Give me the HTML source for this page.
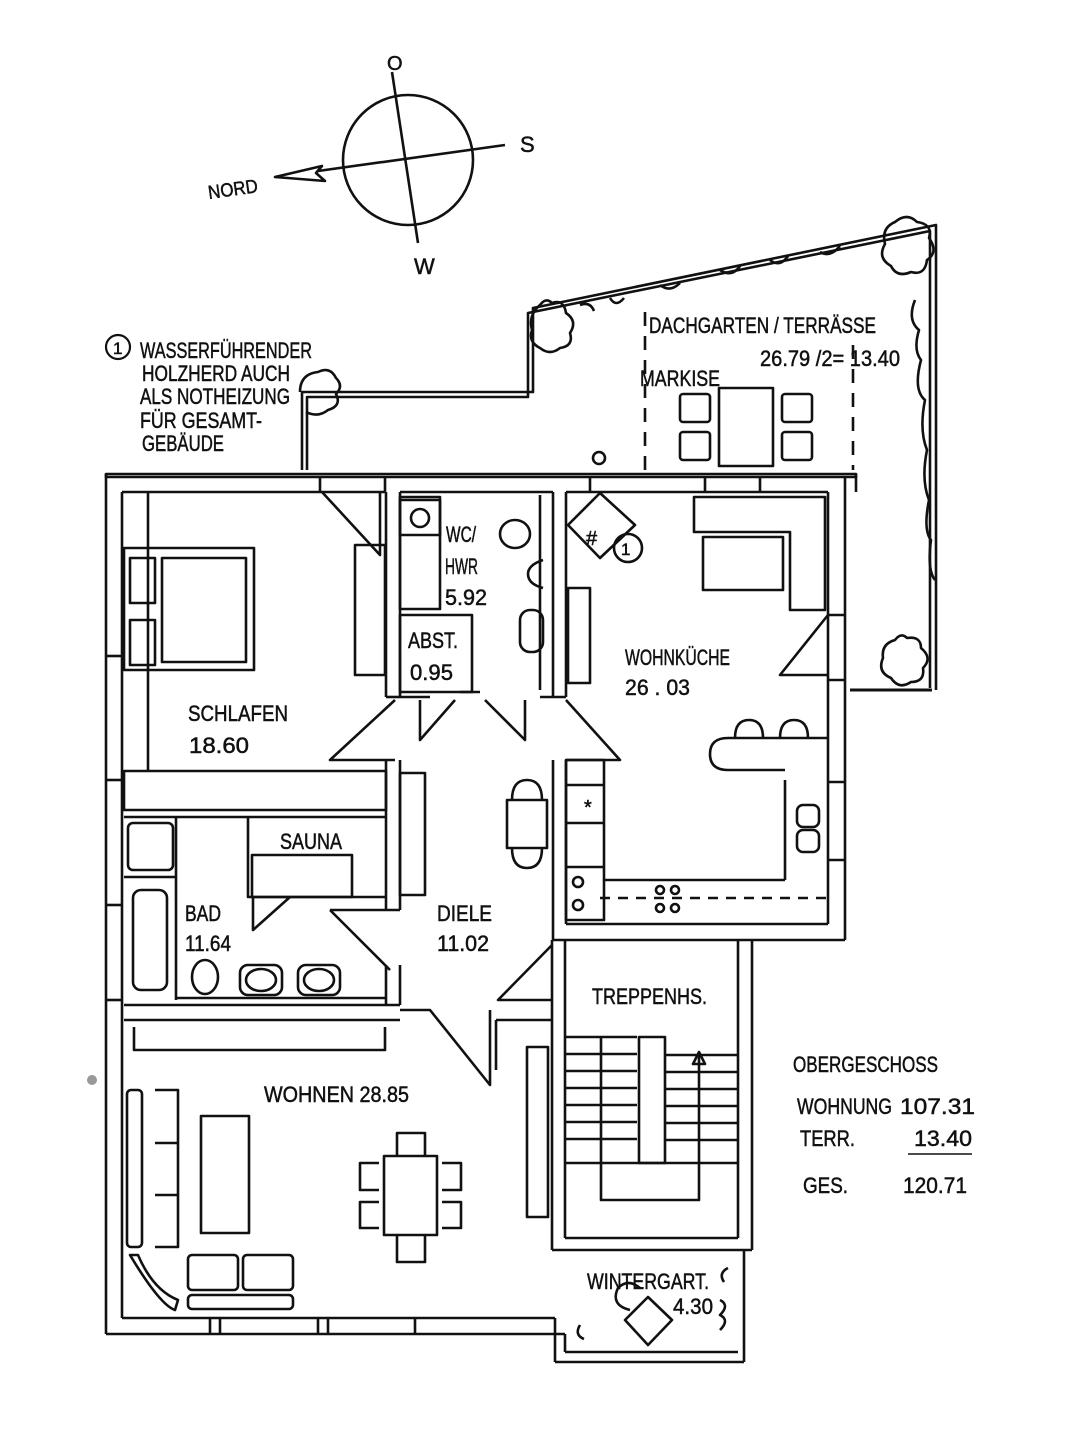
<!DOCTYPE html>
<html><head><meta charset="utf-8"><style>
html,body{margin:0;padding:0;background:#fff;}
svg{display:block;}
text{font-family:"Liberation Sans Narrow","Liberation Sans",sans-serif;fill:#111;stroke:#111;stroke-width:0.5;}
</style></head><body>
<svg width="1089" height="1440" viewBox="0 0 1089 1440" xmlns="http://www.w3.org/2000/svg">
<rect width="1089" height="1440" fill="#fff"/>
<g stroke="#111" stroke-width="2.6" fill="none" stroke-linejoin="round">
<!-- compass -->
<circle cx="408" cy="160" r="65"/>
<line x1="392" y1="72" x2="418" y2="243"/>
<line x1="275" y1="177" x2="505" y2="145"/>
<path d="M275 177 L322 166 L316 173 L325 181 Z" fill="#fff"/>

<!-- terrace -->
<path d="M302 470 L302 392 L533 392 L533 308 L936 225 L936 690"/>
<path d="M307 470 L307 397 L528 397 L528 313 L930 231 L930 688"/>
<line x1="850" y1="690" x2="932" y2="690" stroke-width="3"/>
<line x1="645" y1="312" x2="645" y2="470" stroke-dasharray="14,10"/>
<line x1="853" y1="345" x2="853" y2="470" stroke-dasharray="14,10"/>
<rect x="719" y="388" width="54" height="78"/>
<rect x="680" y="394" width="30" height="28" rx="3"/>
<rect x="680" y="432" width="30" height="28" rx="3"/>
<rect x="782" y="394" width="30" height="28" rx="3"/>
<rect x="782" y="432" width="30" height="28" rx="3"/>
<circle cx="599" cy="458" r="6"/>
<!-- plants -->
<path d="M540 305 q-12 10 -8 25 q-4 12 8 18 q10 8 20 0 q14 -2 10 -15 q8 -12 -4 -20 q-2 -14 -14 -10 q-6 -6 -12 2z"/>
<path d="M300 392 q0 -18 18 -20 q12 -6 18 6 q8 8 0 16 q6 12 -8 16 q-10 8 -22 2"/>
<path d="M895 222 q-14 6 -10 22 q-8 14 6 22 q6 12 20 6 q14 4 16 -12 q12 -8 2 -22 q4 -14 -12 -16 q-10 -10 -22 0z"/>
<path d="M895 640 q-14 4 -12 18 q-6 14 8 20 q8 12 20 4 q14 0 12 -14 q10 -10 -2 -20 q0 -12 -14 -10 q-6 -6 -12 2z"/>
<path d="M915 300 q-8 20 4 30 q-6 20 2 30 q-8 30 4 40 q-6 30 2 50 q-6 30 2 50 q-6 30 2 40 q-4 30 4 40"/>
<path d="M580 305 q10 -4 14 6 M610 298 q6 10 14 0 M660 285 q10 8 20 -2 M720 270 q12 8 20 -4 M770 260 q10 8 18 -4 M820 252 q10 6 20 -6"/>

<!-- outer walls -->
<rect x="106" y="474" width="750" height="3"/>
<line x1="106" y1="474" x2="106" y2="1334"/>
<line x1="122" y1="492" x2="122" y2="1318"/>
<line x1="122" y1="492" x2="386" y2="492"/>
<line x1="400" y1="492" x2="553" y2="492"/>
<line x1="566" y1="492" x2="828" y2="492"/>
<line x1="106" y1="1334" x2="565" y2="1334"/>
<line x1="122" y1="1318" x2="555" y2="1318"/>
<line x1="106" y1="656" x2="122" y2="656"/><line x1="106" y1="780" x2="122" y2="780"/>
<line x1="106" y1="905" x2="122" y2="905"/><line x1="106" y1="1000" x2="122" y2="1000"/>
<line x1="148" y1="492" x2="148" y2="770"/>
<!-- right wall -->
<line x1="828" y1="492" x2="828" y2="924"/>
<line x1="845" y1="477" x2="845" y2="940"/>
<line x1="856" y1="474" x2="856" y2="492"/>
<line x1="828" y1="615" x2="845" y2="615"/><line x1="828" y1="680" x2="845" y2="680"/>
<line x1="828" y1="782" x2="845" y2="782"/><line x1="828" y1="860" x2="845" y2="860"/>
<line x1="320" y1="477" x2="320" y2="492"/><line x1="385" y1="477" x2="385" y2="492"/>
<line x1="590" y1="477" x2="590" y2="492"/><line x1="705" y1="477" x2="705" y2="492"/>
<line x1="760" y1="477" x2="760" y2="492"/>

<!-- WC -->
<line x1="386" y1="492" x2="386" y2="697"/><line x1="400" y1="492" x2="400" y2="697"/>
<line x1="553" y1="492" x2="553" y2="697"/><line x1="566" y1="492" x2="566" y2="697"/>
<line x1="386" y1="697" x2="400" y2="697"/><line x1="540" y1="697" x2="566" y2="697"/>
<rect x="400" y="497" width="40" height="112"/>
<rect x="400" y="500" width="40" height="35"/>
<circle cx="420" cy="518" r="9"/>
<rect x="400" y="615" width="72" height="77"/>
<line x1="400" y1="697" x2="430" y2="697"/><line x1="460" y1="692" x2="480" y2="692"/>
<ellipse cx="515" cy="534" rx="15" ry="14"/>
<rect x="520" y="610" width="23" height="42" rx="10"/>
<path d="M543 560 q-15 5 -15 14 q0 10 15 14"/>
<line x1="540" y1="495" x2="540" y2="690"/>
<rect x="355" y="545" width="30" height="130"/>
<path d="M322 492 L380 555 L380 492"/>
<!-- bed -->
<rect x="124" y="548" width="130" height="122"/>
<rect x="162" y="558" width="84" height="104"/>
<rect x="130" y="558" width="25" height="45"/><rect x="130" y="620" width="25" height="45"/>
<!-- doors -->
<path d="M395 700 L330 760 L395 760"/>
<path d="M420 700 L420 740 L455 700"/>
<path d="M485 700 L525 740 L525 700"/>
<path d="M566 700 L620 760 L566 760"/>
<rect x="124" y="771" width="262" height="39"/>
<line x1="386" y1="760" x2="386" y2="910"/><line x1="400" y1="760" x2="400" y2="910"/>
<rect x="400" y="773" width="25" height="122"/>
<!-- Bad -->
<line x1="124" y1="817" x2="386" y2="817"/>
<line x1="176" y1="817" x2="176" y2="1000"/>
<rect x="128" y="823" width="45" height="47" rx="5"/>
<line x1="124" y1="877" x2="176" y2="877"/>
<rect x="133" y="890" width="34" height="100" rx="8"/>
<path d="M248 817 L248 897 L386 897"/>
<rect x="252" y="855" width="100" height="42"/>
<path d="M253 897 L253 930 L290 897"/>
<ellipse cx="205" cy="977" rx="13" ry="17"/>
<rect x="240" y="965" width="42" height="30" rx="8"/><ellipse cx="261" cy="980" rx="15" ry="11"/>
<rect x="298" y="965" width="42" height="30" rx="8"/><ellipse cx="319" cy="980" rx="15" ry="11"/>
<line x1="176" y1="998" x2="386" y2="998"/>
<line x1="124" y1="1005" x2="400" y2="1005"/>
<line x1="386" y1="965" x2="386" y2="1005"/><line x1="400" y1="965" x2="400" y2="1005"/>
<path d="M330 910 L400 910 M330 910 L390 970"/>
<path d="M400 1010 L430 1010 L490 1085 L490 1010"/>
<!-- Kitchen -->
<line x1="553" y1="760" x2="553" y2="940"/><line x1="566" y1="760" x2="566" y2="924"/>
<line x1="553" y1="940" x2="845" y2="940"/><line x1="566" y1="924" x2="828" y2="924"/>
<rect x="566" y="760" width="38" height="160"/>
<line x1="566" y1="785" x2="604" y2="785"/><line x1="566" y1="823" x2="604" y2="823"/>
<line x1="566" y1="867" x2="604" y2="867"/>
<line x1="604" y1="880" x2="785" y2="880"/>
<line x1="785" y1="780" x2="785" y2="880"/>
<path d="M828 738 L728 738 q-18 0 -18 16 q0 16 18 16 L785 770"/>
<path d="M735 738 q0 -18 14 -18 q14 0 14 18 M780 738 q0 -18 14 -18 q14 0 14 18"/>
<rect x="797" y="805" width="22" height="22" rx="6"/><rect x="797" y="830" width="22" height="22" rx="6"/>
<line x1="600" y1="898" x2="828" y2="898" stroke-dasharray="10,8"/>
<circle cx="578" cy="882" r="5"/><circle cx="578" cy="905" r="5"/>
<circle cx="660" cy="890" r="4"/><circle cx="675" cy="890" r="4"/><circle cx="660" cy="908" r="4"/><circle cx="675" cy="908" r="4"/>
<path d="M694 497 L825 497 L825 610 L790 610 L790 532 L694 532 Z"/>
<rect x="703" y="537" width="80" height="53"/>
<path d="M828 615 L780 675 L828 675"/>
<path d="M568 525 L600 493 L635 525 L600 558 Z"/>
<circle cx="628" cy="548" r="14"/>
<rect x="568" y="588" width="22" height="95"/>
<rect x="507" y="800" width="40" height="48"/>
<path d="M512 800 q0 -20 15 -20 q15 0 15 20 M512 848 q0 20 15 20 q15 0 15 -20"/>
<!-- Treppenhaus -->
<line x1="552" y1="940" x2="552" y2="1250"/><line x1="565" y1="940" x2="565" y2="1238"/>
<line x1="738" y1="940" x2="738" y2="1238"/><line x1="752" y1="940" x2="752" y2="1250"/>
<line x1="565" y1="1238" x2="738" y2="1238"/><line x1="552" y1="1250" x2="752" y2="1250"/>
<path d="M552 945 L498 1000 L552 1000"/>
<rect x="527" y="1047" width="21" height="170"/>
<path d="M496 1020 L552 1020 M496 1020 L496 1070"/>
<line x1="565" y1="1037" x2="637" y2="1037"/>
<rect x="639" y="1037" width="26" height="126"/>
<line x1="565" y1="1163" x2="738" y2="1163"/>
<line x1="565" y1="1054" x2="637" y2="1054"/><line x1="565" y1="1071" x2="637" y2="1071"/>
<line x1="565" y1="1088" x2="637" y2="1088"/><line x1="565" y1="1105" x2="637" y2="1105"/>
<line x1="565" y1="1122" x2="637" y2="1122"/><line x1="565" y1="1139" x2="637" y2="1139"/>
<line x1="665" y1="1055" x2="738" y2="1055"/><line x1="665" y1="1072" x2="738" y2="1072"/>
<line x1="665" y1="1089" x2="738" y2="1089"/><line x1="665" y1="1106" x2="738" y2="1106"/>
<line x1="665" y1="1123" x2="738" y2="1123"/><line x1="665" y1="1140" x2="738" y2="1140"/>
<path d="M601 1037 L601 1200 L699 1200 L699 1055"/>
<path d="M693 1064 L699 1052 L705 1064 Z"/>
<!-- Wohnen -->
<line x1="124" y1="1020" x2="400" y2="1020"/>
<path d="M134 1027 L134 1050 L385 1050 L385 1027"/>
<rect x="127" y="1090" width="15" height="157" rx="4"/>
<path d="M155 1090 L178 1090 L178 1143 L155 1143 M155 1143 L178 1143 L178 1195 L155 1195 M155 1195 L178 1195 L178 1247 L155 1247"/>
<rect x="201" y="1116" width="48" height="117"/>
<rect x="384" y="1156" width="53" height="79"/>
<path d="M397 1156 L397 1133 L425 1133 L425 1156 M397 1235 L397 1262 L425 1262 L425 1235"/>
<path d="M379 1163 L360 1163 L360 1190 L379 1190 M379 1202 L360 1202 L360 1228 L379 1228"/>
<path d="M442 1163 L461 1163 L461 1190 L442 1190 M442 1202 L461 1202 L461 1228 L442 1228"/>
<path d="M130 1255 q30 50 45 55 L178 1300 q-25 -10 -40 -45 Z"/>
<rect x="188" y="1255" width="50" height="35" rx="4"/><rect x="243" y="1255" width="50" height="35" rx="4"/>
<rect x="188" y="1295" width="105" height="14" rx="4"/>
<line x1="210" y1="1318" x2="210" y2="1334"/><line x1="220" y1="1318" x2="220" y2="1334"/>
<line x1="318" y1="1318" x2="318" y2="1334"/><line x1="328" y1="1318" x2="328" y2="1334"/>
<line x1="415" y1="1318" x2="415" y2="1334"/>
<!-- Wintergarten -->
<line x1="555" y1="1318" x2="555" y2="1362"/><line x1="565" y1="1334" x2="565" y2="1352"/>
<line x1="555" y1="1362" x2="744" y2="1362"/><line x1="565" y1="1352" x2="738" y2="1352"/>
<line x1="744" y1="1250" x2="744" y2="1362"/>
<path d="M625 1320 L648 1297 L672 1320 L648 1345 Z"/>
<path d="M630 1310 q-20 -5 -12 -22 q10 -10 22 0"/>
<path d="M728 1268 q-10 5 -4 14 M720 1300 q10 5 0 15 q10 5 0 15 M580 1325 q-6 10 4 14"/>
</g>

<!-- texts -->
<g font-size="22">
<circle cx="118" cy="347" r="12" fill="none" stroke="#111" stroke-width="2.2"/>
<text x="113" y="354" font-size="17">1</text>
<text x="140" y="358" textLength="172" lengthAdjust="spacingAndGlyphs">WASSERFÜHRENDER</text>
<text x="142" y="381" textLength="148" lengthAdjust="spacingAndGlyphs">HOLZHERD  AUCH</text>
<text x="140" y="404" textLength="150" lengthAdjust="spacingAndGlyphs">ALS NOTHEIZUNG</text>
<text x="140" y="428" textLength="122" lengthAdjust="spacingAndGlyphs">FÜR GESAMT-</text>
<text x="142" y="451" textLength="82" lengthAdjust="spacingAndGlyphs">GEBÄUDE</text>
<text x="387" y="70" font-size="20">O</text>
<text x="520" y="152" font-size="22">S</text>
<text x="414" y="274" font-size="22">W</text>
<text x="208" y="196" font-size="19" transform="rotate(-8 230 190)" textLength="50" lengthAdjust="spacingAndGlyphs">NORD</text>
<text x="649" y="333" textLength="227" lengthAdjust="spacingAndGlyphs">DACHGARTEN / TERRÄSSE</text>
<text x="760" y="366" textLength="140" lengthAdjust="spacingAndGlyphs">26.79 /2= 13.40</text>
<text x="640" y="386" textLength="80" lengthAdjust="spacingAndGlyphs">MARKISE</text>
<text x="446" y="542" textLength="30" lengthAdjust="spacingAndGlyphs">WC/</text>
<text x="445" y="574" textLength="33" lengthAdjust="spacingAndGlyphs">HWR</text>
<text x="445" y="605" textLength="42" lengthAdjust="spacingAndGlyphs">5.92</text>
<text x="408" y="648" textLength="50" lengthAdjust="spacingAndGlyphs">ABST.</text>
<text x="410" y="680" textLength="43" lengthAdjust="spacingAndGlyphs">0.95</text>
<text x="625" y="665" textLength="105" lengthAdjust="spacingAndGlyphs">WOHNKÜCHE</text>
<text x="625" y="695" textLength="65" lengthAdjust="spacingAndGlyphs">26 . 03</text>
<text x="188" y="721" textLength="100" lengthAdjust="spacingAndGlyphs">SCHLAFEN</text>
<text x="189" y="753" textLength="60" lengthAdjust="spacingAndGlyphs">18.60</text>
<text x="280" y="849" textLength="62" lengthAdjust="spacingAndGlyphs">SAUNA</text>
<text x="185" y="921" textLength="36" lengthAdjust="spacingAndGlyphs">BAD</text>
<text x="185" y="951" textLength="46" lengthAdjust="spacingAndGlyphs">11.64</text>
<text x="437" y="921" textLength="55" lengthAdjust="spacingAndGlyphs">DIELE</text>
<text x="437" y="951" textLength="52" lengthAdjust="spacingAndGlyphs">11.02</text>
<text x="592" y="1004" textLength="115" lengthAdjust="spacingAndGlyphs">TREPPENHS.</text>
<text x="264" y="1102" textLength="145" lengthAdjust="spacingAndGlyphs">WOHNEN  28.85</text>
<text x="587" y="1289" textLength="122" lengthAdjust="spacingAndGlyphs">WINTERGART.</text>
<text x="673" y="1314" textLength="40" lengthAdjust="spacingAndGlyphs">4.30</text>
<text x="584" y="814" font-size="20">*</text>
<text x="586" y="545" font-size="20">#</text>
<text x="621" y="555" font-size="17">1</text>
<text x="793" y="1072" textLength="145" lengthAdjust="spacingAndGlyphs">OBERGESCHOSS</text>
<text x="797" y="1114" textLength="95" lengthAdjust="spacingAndGlyphs">WOHNUNG</text>
<text x="900" y="1114" textLength="75" lengthAdjust="spacingAndGlyphs">107.31</text>
<text x="800" y="1146" textLength="55" lengthAdjust="spacingAndGlyphs">TERR.</text>
<text x="914" y="1146" textLength="58" lengthAdjust="spacingAndGlyphs">13.40</text>
<line x1="908" y1="1154" x2="972" y2="1154" stroke="#111" stroke-width="1.5"/>
<text x="803" y="1193" textLength="45" lengthAdjust="spacingAndGlyphs">GES.</text>
<text x="903" y="1193" textLength="64" lengthAdjust="spacingAndGlyphs">120.71</text>
</g>
<circle cx="92" cy="1080" r="5" fill="#999"/>
</svg>
</body></html>
